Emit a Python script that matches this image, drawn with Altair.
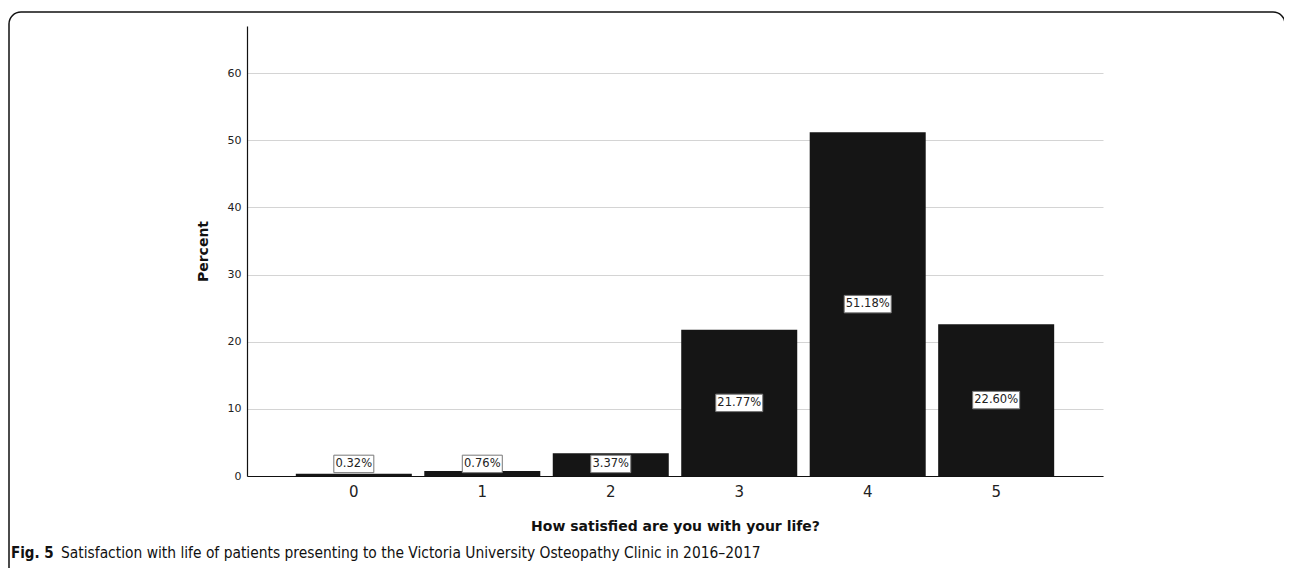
import altair as alt
import pandas as pd

categories = ["0", "1", "2", "3", "4", "5"]
percents = [0.32, 0.76, 3.37, 21.77, 51.18, 22.60]
labels = ["0.32%", "0.76%", "3.37%", "21.77%", "51.18%", "22.60%"]

df = pd.DataFrame({"cat": categories, "pct": percents, "label": labels})

W, H = 856, 450
YMAX = 67

x = alt.X("cat:N", title="How satisfied are you with your life?", sort=categories,
          scale=alt.Scale(paddingInner=0.097, paddingOuter=0.38),
          axis=alt.Axis(labelAngle=0, labelFontSize=15, labelFont="DejaVu Sans", labelColor="#222",
                        titleFont="DejaVu Sans", titleFontSize=14, titleFontWeight="bold",
                        titleColor="#111", titlePadding=20, ticks=False, labelPadding=8,
                        domainColor="#111", domainWidth=1.2))
y_scale = alt.Scale(domain=[0, YMAX], nice=False)

base = alt.Chart(df)

bars = base.mark_bar(color="#151515").encode(
    x=x,
    y=alt.Y("pct:Q", title="Percent", scale=y_scale,
            axis=alt.Axis(values=[0, 10, 20, 30, 40, 50, 60], labelFontSize=11, labelFont="DejaVu Sans",
                          labelColor="#222", ticks=False, labelPadding=6, grid=True,
                          gridColor="#d4d4d4", gridWidth=1, domainColor="#111", domainWidth=1.2,
                          titleFont="DejaVu Sans", titleFontSize=14, titleFontWeight="bold",
                          titleColor="#111", titlePadding=17)),
)

lab = base.transform_calculate(
    ypos="max(datum.pct / 2, 1.8)"
).transform_calculate(
    lo="datum.ypos - 1.3", hi="datum.ypos + 1.3", n="length(datum.label)"
)

box_short = lab.transform_filter("datum.n <= 5").mark_bar(
    width=40, fill="white", stroke="#777", strokeWidth=1
).encode(x=alt.X("cat:N", sort=categories), y=alt.Y("lo:Q", scale=y_scale), y2="hi:Q")

box_long = lab.transform_filter("datum.n > 5").mark_bar(
    width=47, fill="white", stroke="#777", strokeWidth=1
).encode(x=alt.X("cat:N", sort=categories), y=alt.Y("hi:Q", scale=y_scale), y2="lo:Q")

texts = lab.mark_text(font="DejaVu Sans", fontSize=11.5, color="#222", baseline="middle").encode(
    x=alt.X("cat:N", sort=categories), y=alt.Y("ypos:Q", scale=y_scale), text="label:N"
)

frame_df = pd.DataFrame({"k": [0]})
frame = alt.Chart(frame_df).mark_rect(
    fill=None, stroke="#111", strokeWidth=1.5, cornerRadius=12
).encode(
    x=alt.value(-238), x2=alt.value(1038), y=alt.value(-14), y2=alt.value(600)
)

caption_bold = alt.Chart(frame_df).mark_text(
    align="left", baseline="middle", font="DejaVu Sans Condensed", fontSize=15, fontWeight="bold", color="#111"
).encode(x=alt.value(-236), y=alt.value(527), text=alt.value("Fig. 5"))
caption = alt.Chart(frame_df).mark_text(
    align="left", baseline="middle", font="DejaVu Sans Condensed", fontSize=15.4, color="#111"
).encode(
    x=alt.value(-186), y=alt.value(527),
    text=alt.value("Satisfaction with life of patients presenting to the Victoria University Osteopathy Clinic in 2016\u20132017"),
)

chart = alt.layer(frame, bars, box_short, box_long, texts, caption_bold, caption).properties(
    width=W, height=H,
    autosize=alt.AutoSizeParams(type="none"),
    padding={"left": 239, "top": 18, "right": 181, "bottom": 92},
).configure(background="white").configure_view(stroke=None)

chart.save("out.html", embed_options={"renderer": "svg", "actions": False})
